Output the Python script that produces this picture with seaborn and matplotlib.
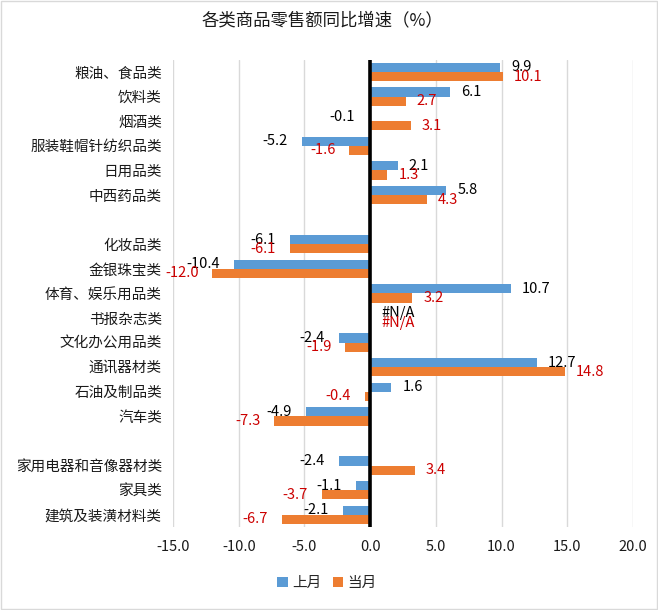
import numpy as np
import pandas as pd
import matplotlib.pyplot as plt
import seaborn as sns

### data (blank names ' ' and '  ' are the gaps between groups)
categories = ['粮油、食品类', '饮料类', '烟酒类', '服装鞋帽针纺织品类', '日用品类', '中西药品类', ' ',
              '化妆品类', '金银珠宝类', '体育、娱乐用品类', '书报杂志类', '文化办公用品类', '通讯器材类',
              '石油及制品类', '汽车类', '  ',
              '家用电器和音像器材类', '家具类', '建筑及装潢材料类']
last_month = [9.9, 6.1, -0.1, -5.2, 2.1, 5.8, None,
              -6.1, -10.4, 10.7, np.nan, -2.4, 12.7, 1.6, -4.9, None,
              -2.4, -1.1, -2.1]
this_month = [10.1, 2.7, 3.1, -1.6, 1.3, 4.3, None,
              -6.1, -12.0, 3.2, np.nan, -1.9, 14.8, -0.4, -7.3, None,
              3.4, -3.7, -6.7]
series = ['上月', '当月']
x_ticks = [-15, -10, -5, 0, 5, 10, 15, 20]

### long format, skip the gap rows
rows = []
for name, a, b in zip(categories, last_month, this_month):
    if a is None:
        continue
    rows.append({'cat': name, 'series': series[0], 'val': a})
    rows.append({'cat': name, 'series': series[1], 'val': b})
df = pd.DataFrame(rows)
df['plot_val'] = df['val'].fillna(0)

sns.set_style('white')
plt.rcParams['font.family'] = ['Noto Sans CJK SC', 'DejaVu Sans']

fig = plt.figure(figsize=(6.58, 6.10), dpi=100)
ax = fig.add_axes([0.263, 0.136, 0.699, 0.766])

sns.barplot(data=df, y='cat', x='plot_val', hue='series', order=categories,
            hue_order=series, palette=['#5B9BD5', '#ED7D31'], saturation=1, orient='h',
            width=0.75, errorbar=None, linewidth=0, ax=ax, zorder=2)

ax.set_xlim(-15, 20)
ax.set_xticks(x_ticks)
ax.set_xticklabels([f'{t:.1f}' for t in x_ticks], fontsize=10.5, color='#1a1a1a')
ax.tick_params(axis='y', labelsize=10.5, colors='#1a1a1a', pad=8, length=0)
ax.tick_params(axis='x', pad=9, length=0)
ax.set_xlabel('')
ax.set_ylabel('')
ax.grid(axis='x', color='#D9D9D9', lw=1, zorder=0)
ax.set_axisbelow(True)
for s in ax.spines.values():
    s.set_visible(False)
ax.axvline(0, color='black', lw=2.6, zorder=3)

### data labels
label_colors = {series[0]: '#000000', series[1]: '#CC0000'}
vals = {series[0]: last_month, series[1]: this_month}
for cont, s in zip(ax.containers, series):
    for p in cont.patches:
        yc = p.get_y() + p.get_height() / 2
        i = int(round(yc))
        v = vals[s][i]
        if v is None:
            continue
        if np.isnan(v):
            txt, xv, off, ha = '#N/A', 0, 8, 'left'
        else:
            txt, xv = f'{v:.1f}', v
            off, ha = (8, 'left') if v >= 0 else (-10, 'right')
        ax.annotate(txt, xy=(xv, yc), xytext=(off, 0), textcoords='offset points',
                    ha=ha, va='center', fontsize=10.5, color=label_colors[s], zorder=4)

### legend at the bottom
handles, labels = ax.get_legend_handles_labels()
ax.legend_.remove()
fig.legend(handles, labels, loc='center', bbox_to_anchor=(0.497, 0.044), ncol=2,
           frameon=False, fontsize=10.5, handlelength=0.7, handleheight=0.7,
           handletextpad=0.3, columnspacing=0.8)

fig.text(0.49, 0.967, '各类商品零售额同比增速（%）', ha='center', va='center',
         fontsize=12.5, color='#1a1a1a')

fig.patches.append(plt.Rectangle((0.001, 0.001), 0.997, 0.997, transform=fig.transFigure,
                                 fill=False, edgecolor='#D9D9D9', lw=1))

fig.savefig('out.png', dpi=100)
